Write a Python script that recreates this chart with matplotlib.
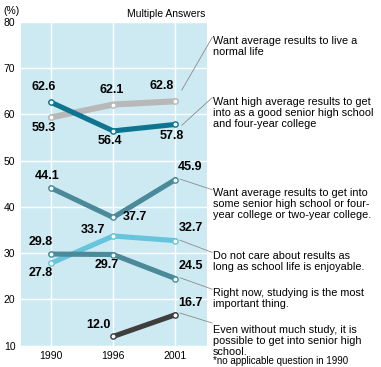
import numpy as np
import matplotlib.pyplot as plt

plt.rcParams['font.family'] = ['Liberation Sans', 'DejaVu Sans']

years = ['1990', '1996', '2001']
normal_life = [59.3, 62.1, 62.8]
high_average = [62.6, 56.4, 57.8]
some_school = [44.1, 37.7, 45.9]
enjoyable = [27.8, 33.7, 32.7]
studying_most = [29.8, 29.7, 24.5]
without_study = [np.nan, 12.0, 16.7]

labels = [
    "Want average results to live a\nnormal life",
    "Want high average results to get\ninto as a good senior high school\nand four-year college",
    "Want average results to get into\nsome senior high school or four-\nyear college or two-year college.",
    "Do not care about results as\nlong as school life is enjoyable.",
    "Right now, studying is the most\nimportant thing.",
    "Even without much study, it is\npossible to get into senior high\nschool.",
]

series = [normal_life, high_average, some_school, enjoyable, studying_most, without_study]
colors = ['#b8b8b8', '#0e7590', '#4a8a99', '#66c4dc', '#4a8a99', '#3e3e3e']
widths = [4.4, 3.7, 3.7, 3.7, 3.7, 3.7]

# value label offsets (dx in category units, dy in %) per series, per year
offsets = [
    [(-0.11, -2.3), (-0.02, 3.2), (-0.22, 3.4)],
    [(-0.12, 3.2), (-0.05, -2.2), (-0.06, -2.5)],
    [(-0.06, 2.6), (0.35, 0.0), (0.24, 2.7)],
    [(-0.16, -2.2), (-0.32, 1.4), (0.24, 2.8)],
    [(-0.16, 2.7), (-0.1, -2.3), (0.24, 2.65)],
    [None, (-0.23, 2.5), (0.24, 2.5)],
]

# text anchor (top of first line) and leader lines per label
text_y = [76.8, 63.8, 44.05, 30.5, 22.4, 14.55]
leader_start = [(2.10, 65.2), (2.10, 57.6), (2.07, 46.0), (2.07, 32.8), (2.07, 24.7), (2.07, 17.06)]
leader_end = [(2.59, 76.6), (2.59, 63.6), (2.59, 43.7), (2.59, 30.15), (2.59, 22.2), (2.59, 14.9)]

fig = plt.figure(figsize=(3.81, 3.67), dpi=100)
ax = fig.add_axes([0.055, 0.058, 0.489, 0.883])
ax.set_facecolor('#cdeaf3')
x = np.arange(len(years))

for i, (vals, c, lw) in enumerate(zip(series, colors, widths)):
    ax.plot(x, vals, color=c, lw=lw, solid_capstyle='round', zorder=3)
    ax.plot(x, vals, 'o', ms=3.8, mfc='white', mec=c, mew=1.0, zorder=4)
    for j, v in enumerate(vals):
        if np.isnan(v):
            continue
        dx, dy = offsets[i][j]
        ax.text(x[j] + dx, v + dy, f"{v:.1f}", ha='center', va='center',
                fontsize=9, fontweight='bold', color='black', zorder=5)

for k in range(len(labels)):
    ax.annotate('', xy=leader_end[k], xytext=leader_start[k],
                arrowprops=dict(arrowstyle='-', color='#8a8a8a', lw=0.6,
                                shrinkA=0, shrinkB=0),
                annotation_clip=False)
    ax.text(2.6, text_y[k], labels[k], ha='left', va='top', fontsize=7.85,
            linespacing=1.12, clip_on=False)

ax.text(2.6, 6.6, "*no applicable question in 1990", ha='left', va='center',
        fontsize=7, clip_on=False)

ax.set_xlim(-0.48, 2.51)
ax.set_ylim(10, 80)
ax.set_xticks(x)
ax.set_xticklabels(years, fontsize=7.5)
ax.set_yticks(np.arange(10, 81, 10))
ax.tick_params(axis='both', length=0, labelsize=7.5, pad=4)
ax.grid(True, color='white', lw=1.0, zorder=1)
ax.set_axisbelow(True)
for s in ax.spines.values():
    s.set_visible(False)

fig.text(0.01, 0.985, "(%)", ha='left', va='top', fontsize=7.5)
fig.text(0.54, 0.975, "Multiple Answers", ha='right', va='top', fontsize=7.5)

fig.savefig('out.png', dpi=100)
